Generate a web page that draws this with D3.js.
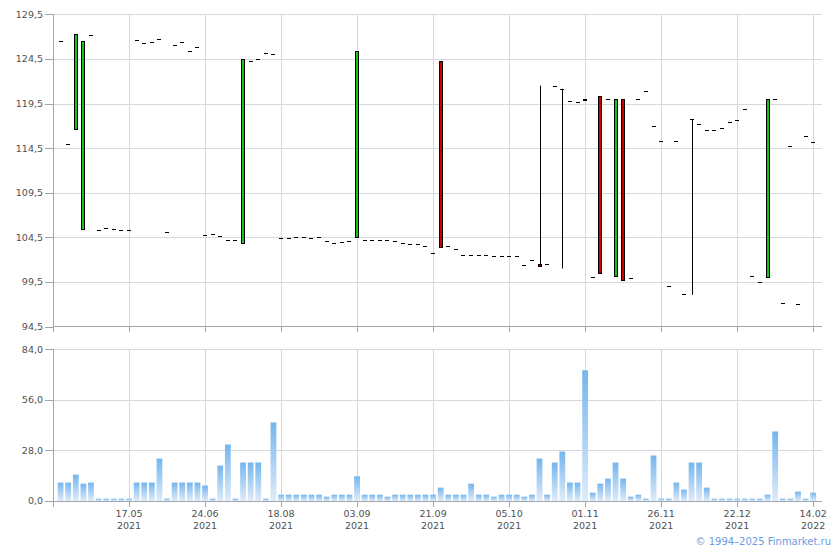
<!DOCTYPE html>
<html><head><meta charset="utf-8">
<script src="https://cdn.jsdelivr.net/npm/d3@7"></script>
<style>body{margin:0;background:#fff}svg{display:block}</style>
</head><body><svg id="c" width="840" height="550"></svg>
<script>
// ---- DATA (one entry per trading day, index 0..99) ----
const opens = [
126.5,115.0,116.6,105.4,127.2,105.3,105.5,105.4,105.3,105.3,
126.6,126.3,126.35,126.7,105.1,126.05,126.35,125.35,125.8,104.75,
104.85,104.6,104.2,104.2,103.85,124.25,124.45,125.15,125.05,104.4,
104.45,104.5,104.55,104.45,104.5,104.1,103.85,103.95,104.1,104.5,
104.2,104.2,104.2,104.25,104.05,103.9,103.7,103.7,103.5,102.75,
124.25,103.5,103.15,102.55,102.55,102.55,102.55,102.4,102.45,102.4,
102.4,101.35,102.0,101.55,101.55,121.5,121.15,119.8,119.7,119.85,
100.0,120.35,120.05,100.15,119.95,99.9,119.95,120.9,116.95,115.35,
99.0,115.35,98.1,117.75,117.25,116.5,116.5,116.7,117.45,117.6,
118.85,100.15,99.5,100.0,119.95,97.1,114.7,97.0,115.9,115.15];
const closes = [
126.5,115.0,127.3,126.5,127.2,105.3,105.5,105.4,105.3,105.3,
126.6,126.3,126.35,126.7,105.1,126.05,126.35,125.35,125.8,104.75,
104.85,104.6,104.2,104.2,124.5,124.25,124.45,125.15,125.05,104.4,
104.45,104.5,104.55,104.45,104.5,104.1,103.85,103.95,104.1,125.35,
104.2,104.2,104.2,104.25,104.05,103.9,103.7,103.7,103.5,102.75,
103.45,103.5,103.15,102.55,102.55,102.55,102.55,102.4,102.45,102.4,
102.4,101.35,102.0,101.3,101.55,121.5,121.15,119.8,119.7,120.05,
100.0,100.45,120.05,120.05,99.7,99.9,119.95,120.9,116.95,115.35,
99.0,115.35,98.1,117.75,117.25,116.5,116.5,116.7,117.45,117.6,
118.85,100.15,99.5,120.05,119.95,97.1,114.7,97.0,115.9,115.15];
const highs = [
126.5,115.0,127.3,126.5,127.2,105.3,105.5,105.4,105.3,105.3,
126.6,126.3,126.35,126.7,105.1,126.05,126.35,125.35,125.8,104.75,
104.85,104.6,104.2,104.2,124.5,124.25,124.45,125.15,125.05,104.4,
104.45,104.5,104.55,104.45,104.5,104.1,103.85,103.95,104.1,125.35,
104.2,104.2,104.2,104.25,104.05,103.9,103.7,103.7,103.5,102.75,
124.25,103.5,103.15,102.55,102.55,102.55,102.55,102.4,102.45,102.4,
102.4,101.35,102.0,121.5,101.55,121.5,121.15,119.8,119.7,120.05,
100.0,120.35,120.05,120.05,119.95,99.9,119.95,120.9,116.95,115.35,
99.0,115.35,98.1,117.75,117.25,116.5,116.5,116.7,117.45,117.6,
118.85,100.15,99.5,120.05,119.95,97.1,114.7,97.0,115.9,115.15];
const lows = [
126.5,115.0,116.6,105.4,127.2,105.3,105.5,105.4,105.3,105.3,
126.6,126.3,126.35,126.7,105.1,126.05,126.35,125.35,125.8,104.75,
104.85,104.6,104.2,104.2,103.85,124.25,124.45,125.15,125.05,104.4,
104.45,104.5,104.55,104.45,104.5,104.1,103.85,103.95,104.1,104.5,
104.2,104.2,104.2,104.25,104.05,103.9,103.7,103.7,103.5,102.75,
103.45,103.5,103.15,102.55,102.55,102.55,102.55,102.4,102.45,102.4,
102.4,101.35,102.0,101.3,101.55,121.5,101.0,119.8,119.7,119.85,
100.0,100.45,120.05,100.15,99.7,99.9,119.95,120.9,116.95,115.35,
99.0,115.35,98.1,98.05,117.25,116.5,116.5,116.7,117.45,117.6,
118.85,100.15,99.5,100.0,119.95,97.1,114.7,97.0,115.9,115.15];
const volumes = [
10.2,10.2,14.6,9.6,10.2,1.3,1.3,1.3,1.3,1.3,
10.2,10.2,10.2,23.5,1.3,10.2,10.2,10.2,10.2,8.5,
1.3,19.6,31.3,1.3,21.3,21.3,21.3,1.3,43.5,3.5,
3.5,3.5,3.5,3.5,3.5,2.4,3.5,3.5,3.5,13.7,
3.5,3.5,3.5,2.4,3.5,3.5,3.5,3.5,3.5,3.5,
7.4,3.5,3.5,3.5,9.6,3.5,3.5,2.4,3.5,3.5,
3.5,2.4,3.5,23.5,3.5,21.3,27.4,10.2,10.2,72.4,
4.6,9.6,12.4,21.3,12.4,2.4,3.5,1.3,25.2,1.3,
1.3,10.2,6.3,21.3,21.3,7.4,1.3,1.3,1.3,1.3,
1.3,1.3,1.3,3.5,38.5,1.3,1.3,5.2,1.3,4.6];
const tickIndices = [9,19,29,39,49,59,69,79,89,99];
const tickDates = ["17.05","24.06","18.08","03.09","21.09","05.10","01.11","26.11","22.12","14.02"];
const tickYears = ["2021","2021","2021","2021","2021","2021","2021","2021","2021","2022"];
const priceTicks = [94.5,99.5,104.5,109.5,114.5,119.5,124.5,129.5];
const volumeTicks = [0,28,56,84];

// ---- DRAWING ----
const svg = d3.select("#c");
const X0 = 53, X1 = 822;
const font = "'DejaVu Sans', Verdana, sans-serif";
const gridColor = "#d5d8dc", axisColor = "#a3a5ad", textColor = "#505050";
const x = d3.scaleLinear().domain([-1, 100.16]).range([X0, X1]);
const yP = d3.scaleLinear().domain([94.5, 129.5]).range([326.5, 14.3]);
const yV = d3.scaleLinear().domain([0, 84]).range([501, 349.3]);
const fmt = v => d3.format(".1f")(v).replace(".", ",");
const px = v => Math.round(v) + 0.5;

const defs = svg.append("defs");
const grad = defs.append("linearGradient").attr("id", "vg")
  .attr("x1", 0).attr("y1", 0).attr("x2", 0).attr("y2", 1);
grad.append("stop").attr("offset", "0%").attr("stop-color", "#74b6ee");
grad.append("stop").attr("offset", "100%").attr("stop-color", "#dfebf9");

function panel(yScale, ticks, top, bottom) {
  const g = svg.append("g");
  // horizontal gridlines
  g.selectAll(".hg").data(ticks.slice(1)).join("line")
    .attr("x1", X0).attr("x2", X1)
    .attr("y1", d => px(yScale(d))).attr("y2", d => px(yScale(d)))
    .attr("stroke", gridColor);
  // vertical gridlines
  g.selectAll(".vg").data(tickIndices).join("line")
    .attr("x1", d => px(x(d))).attr("x2", d => px(x(d)))
    .attr("y1", top).attr("y2", bottom)
    .attr("stroke", gridColor);
  // x axis line + ticks
  g.append("line").attr("x1", X0).attr("x2", X1)
    .attr("y1", px(bottom)).attr("y2", px(bottom)).attr("stroke", axisColor);
  g.selectAll(".xt").data(tickIndices).join("line")
    .attr("x1", d => px(x(d))).attr("x2", d => px(x(d)))
    .attr("y1", bottom).attr("y2", bottom + 6)
    .attr("stroke", axisColor);
  // y axis line + ticks + labels
  g.append("line").attr("x1", px(X0)).attr("x2", px(X0))
    .attr("y1", top).attr("y2", bottom + 6).attr("stroke", axisColor);
  g.selectAll(".yt").data(ticks).join("line")
    .attr("x1", X0 - 8).attr("x2", X0)
    .attr("y1", d => px(yScale(d))).attr("y2", d => px(yScale(d)))
    .attr("stroke", axisColor);
  g.selectAll(".yl").data(ticks).join("text")
    .attr("x", X0 - 10).attr("y", d => yScale(d)).attr("dy", "0.36em")
    .attr("text-anchor", "end").attr("font-family", font).attr("font-size", "9.5px")
    .attr("fill", textColor).text(fmt);
  return g;
}

panel(yP, priceTicks, 14, 326);
panel(yV, volumeTicks, 349, 501);

// candles
const idx = d3.range(closes.length);
const cg = svg.append("g");
idx.forEach(i => {
  const cx = Math.round(x(i));
  const o = opens[i], c = closes[i], h = highs[i], l = lows[i];
  const top = Math.max(o, c), bot = Math.min(o, c);
  if (h > top + 0.05 || l < bot - 0.05) {
    cg.append("line").attr("x1", cx + 0.5).attr("x2", cx + 0.5)
      .attr("y1", yP(h)).attr("y2", yP(l)).attr("stroke", "#000").attr("stroke-width", 1);
  }
  if (top - bot > 0.1) {
    cg.append("rect").attr("x", cx - 1.5).attr("width", 3)
      .attr("y", Math.round(yP(top)) + 0.5)
      .attr("height", Math.max(1, Math.round(yP(bot)) - Math.round(yP(top))))
      .attr("fill", c > o ? "#16c316" : "#d00000")
      .attr("stroke", "#000").attr("stroke-width", 1);
  } else {
    cg.append("rect").attr("x", cx - 2).attr("width", 4)
      .attr("y", Math.round(yP(c))).attr("height", 1).attr("fill", "#000");
  }
});

// volume bars
svg.append("g").selectAll("rect").data(idx).join("rect")
  .attr("x", i => x(i) - 2.9).attr("width", 5.8)
  .attr("y", i => yV(volumes[i])).attr("height", i => yV(0) - yV(volumes[i]))
  .attr("fill", "url(#vg)");

// x labels
const xl = svg.append("g").attr("font-family", font).attr("font-size", "9.5px")
  .attr("fill", textColor).attr("text-anchor", "middle");
tickIndices.forEach((t, k) => {
  xl.append("text").attr("x", x(t)).attr("y", 517).text(tickDates[k]);
  xl.append("text").attr("x", x(t)).attr("y", 529).text(tickYears[k]);
});

svg.append("text").attr("x", 831).attr("y", 545).attr("text-anchor", "end")
  .attr("font-family", font).attr("font-size", "10px").attr("fill", "#6b9be0")
  .text("© 1994–2025 Finmarket.ru");
</script></body></html>
